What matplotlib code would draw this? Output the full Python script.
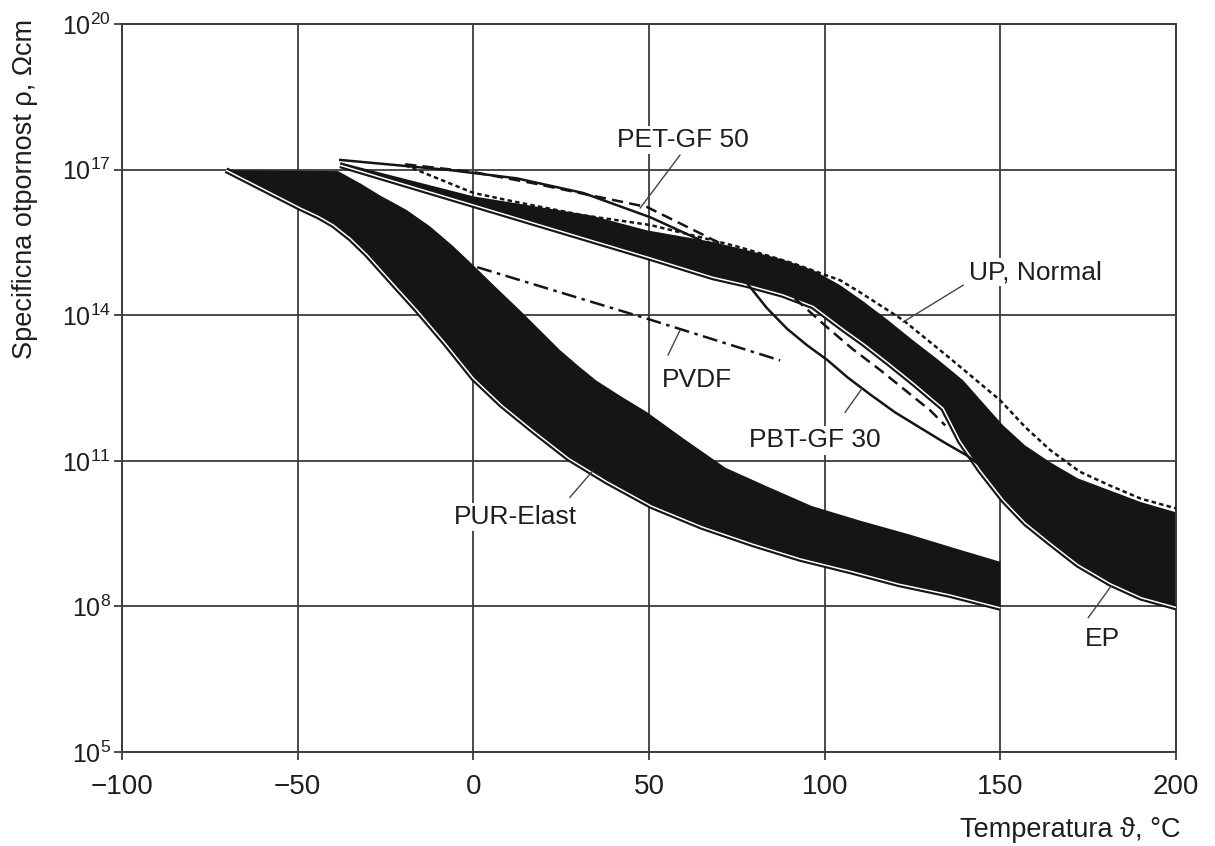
import numpy as np
import matplotlib.pyplot as plt
from matplotlib.ticker import FixedLocator, FixedFormatter, NullLocator

plt.rcParams['font.family'] = ['Liberation Sans', 'DejaVu Sans']
plt.rcParams['mathtext.fontset'] = 'custom'
plt.rcParams['mathtext.rm'] = 'Liberation Sans'
plt.rcParams['mathtext.it'] = 'Liberation Sans:italic'
plt.rcParams['mathtext.bf'] = 'Liberation Sans:bold'

# temperatures in degC, resistivities as log10(rho / Ohm cm)
pur_up_t = [-70.4, -38.5, -32, -26.6, -19, -12.3, -6, 0, 6.5, 13.3, 19, 24.7, 30, 34.9, 42, 49.5,
            60, 71.7, 84, 96.3, 110, 124.3, 137, 150]
pur_up_r = [16.99, 16.97, 16.71, 16.47, 16.17, 15.83, 15.44, 15.03, 14.57, 14.10, 13.69, 13.28, 12.95,
            12.66, 12.33, 12.0, 11.45, 10.86, 10.46, 10.07, 9.77, 9.48, 9.20, 8.92]
pur_lo_t = [-70.4, -49.3, -44, -39.9, -35, -30.3, -23, -16, -8, 0, 8, 17, 27.1, 38, 50.6, 65, 79.6,
            93, 107.5, 121, 135.4, 143, 150]
pur_lo_r = [16.99, 16.21, 16.03, 15.86, 15.58, 15.25, 14.66, 14.10, 13.42, 12.70, 12.15, 11.62, 11.05,
            10.57, 10.07, 9.64, 9.28, 8.98, 8.72, 8.46, 8.24, 8.10, 7.97]

ep_up_t = [-37.9, 0, 33.2, 49.4, 68.2, 77.9, 88, 96.7, 104.4, 110.9, 118, 125.2, 132, 139.4, 145,
           150.8, 157, 164.2, 172, 181.2, 190, 200]
ep_up_r = [17.15, 16.45, 16.06, 15.75, 15.51, 15.34, 15.15, 14.93, 14.62, 14.29, 13.90, 13.48, 13.10,
           12.66, 12.20, 11.73, 11.32, 10.97, 10.64, 10.39, 10.15, 9.94]
ep_lo_t = [-37.9, 0, 33.2, 49.4, 68.2, 77.9, 88, 96.7, 100.7, 105.5, 110.9, 118, 125.2, 133.7, 138.5,
           144.2, 150.8, 157, 164.2, 172, 181.2, 190, 200]
ep_lo_r = [17.09, 16.27, 15.55, 15.20, 14.78, 14.62, 14.42, 14.18, 13.96, 13.70, 13.42, 13.02, 12.60,
           12.08, 11.40, 10.80, 10.19, 9.72, 9.30, 8.86, 8.47, 8.18, 7.98]

pbt_t = [-37.9, -6.6, 12.4, 31.2, 50.3, 64.5, 71, 77.9, 83.5, 89.3, 95, 100.7, 106.5, 112.9, 120,
         127.2, 134, 140.5, 143.4]
pbt_r = [17.20, 16.99, 16.82, 16.52, 16.02, 15.55, 15.18, 14.66, 14.15, 13.72, 13.38, 13.08, 12.72,
         12.37, 12.0, 11.68, 11.38, 11.11, 10.95]

pet_t = [-19.4, 0, 17.0, 36.1, 49.4, 64.5, 70.2, 87.3, 100.7, 108, 115.8, 123, 130.0, 134.3]
pet_r = [17.11, 16.95, 16.72, 16.43, 16.23, 15.69, 15.48, 14.62, 13.75, 13.30, 12.87, 12.45, 12.04, 11.73]

up_t = [-19.4, 0, 12.4, 31.2, 50.3, 64.5, 75.9, 91.0, 104.4, 110.1, 122.3, 135.7, 149.9, 157, 164.2,
        172.5, 181.2, 190, 200]
up_r = [17.09, 16.52, 16.33, 16.06, 15.86, 15.61, 15.40, 15.07, 14.72, 14.47, 13.90, 13.11, 12.25,
        11.70, 11.22, 10.78, 10.49, 10.22, 10.02]

pvdf_t = [1.1, 49.4, 87.3]
pvdf_r = [14.99, 13.93, 13.07]

x_ticks = [-100, -50, 0, 50, 100, 150, 200]
x_tick_labels = ['\u2212100', '\u221250', '0', '50', '100', '150', '200']
y_exp = [5, 8, 11, 14, 17, 20]

# label text, label position (t, log rho), pointer start, pointer end
labels = [
    ('PET-GF 50', (59.7, 17.61), (58.8, 17.30), (47.5, 16.21)),
    ('UP, Normal', (159.9, 14.89), (139.4, 14.62), (122.3, 13.86)),
    ('PVDF', (63.7, 12.66), (55.4, 13.18), (58.8, 13.69)),
    ('PBT-GF 30', (97.3, 11.42), (105.8, 12.0), (110.5, 12.48)),
    ('PUR-Elast', (11.9, 9.84), (27.5, 10.25), (33.8, 10.78)),
    ('EP', (179.0, 7.34), (175.0, 7.77), (181.5, 8.42)),
]

ink = '#151515'
grid_col = '#3c3c3c'
txt_col = '#1e1e1e'

fig = plt.figure(figsize=(12.15, 8.46), dpi=100)
ax = fig.add_axes([0.1004, 0.111, 0.8676, 0.8606])
ax.set_yscale('log')
ax.set_xlim(-100, 200)
ax.set_ylim(1e5, 1e20)


def band(up_t, up_r, lo_t, lo_r):
    xs = np.concatenate([up_t, lo_t[::-1]])
    ys = 10 ** np.concatenate([up_r, lo_r[::-1]])
    ax.fill(xs, ys, color=ink, lw=0, zorder=2)
    ax.plot(lo_t, 10 ** np.array(lo_r), color=ink, lw=4.2, zorder=3, solid_capstyle='butt')
    ax.plot(lo_t, 10 ** np.array(lo_r), color='white', lw=1.1, zorder=3.1, solid_capstyle='butt')


band(pur_up_t, pur_up_r, pur_lo_t, pur_lo_r)
band(ep_up_t, ep_up_r, ep_lo_t, ep_lo_r)

ax.plot(pbt_t, 10 ** np.array(pbt_r), color=ink, lw=1.8, zorder=4)
ax.plot(pet_t, 10 ** np.array(pet_r), color=ink, lw=1.8, dashes=(4.5, 2.5), zorder=4)
ax.plot(up_t, 10 ** np.array(up_r), color=ink, lw=1.8, dashes=(1.8, 1.3), zorder=4)
ax.plot(pvdf_t, 10 ** np.array(pvdf_r), color=ink, lw=1.8, dashes=(6.0, 2.2, 1.4, 2.2), zorder=4)

for text, pos, p0, p1 in labels:
    ax.plot([p0[0], p1[0]], [10 ** p0[1], 10 ** p1[1]], color='#444444', lw=1.0, zorder=5)
    ax.text(pos[0], 10 ** pos[1], text, ha='center', va='center', fontsize=19, color=txt_col,
            zorder=6, bbox=dict(facecolor='white', edgecolor='none', pad=1.5))

ax.xaxis.set_major_locator(FixedLocator(x_ticks))
ax.xaxis.set_major_formatter(FixedFormatter(x_tick_labels))
ax.yaxis.set_major_locator(FixedLocator([10.0 ** e for e in y_exp]))
ax.yaxis.set_minor_locator(NullLocator())
ax.yaxis.set_major_formatter(FixedFormatter([r'$10^{%d}$' % e for e in y_exp]))

ax.grid(True, color=grid_col, lw=1.3)
ax.set_axisbelow(True)
for s in ax.spines.values():
    s.set_color(grid_col)
    s.set_linewidth(1.4)
ax.tick_params(axis='both', which='major', direction='out', length=6, width=1.3, color=grid_col,
               labelcolor=txt_col)
ax.tick_params(axis='x', pad=10, labelsize=20)
ax.tick_params(axis='y', pad=2, labelsize=18)

fig.text(1180 / 1215, 1 - 830 / 846, 'Temperatura \u03d1, \u00b0C', ha='right', va='center',
         fontsize=19.5, color=txt_col)
fig.text(25 / 1215, 1 - 189 / 846, 'Specificna otpornost \u03c1, \u03a9cm', rotation=90,
         ha='center', va='center', fontsize=19.5, color=txt_col)

fig.savefig('out.png', dpi=100, facecolor='white')
